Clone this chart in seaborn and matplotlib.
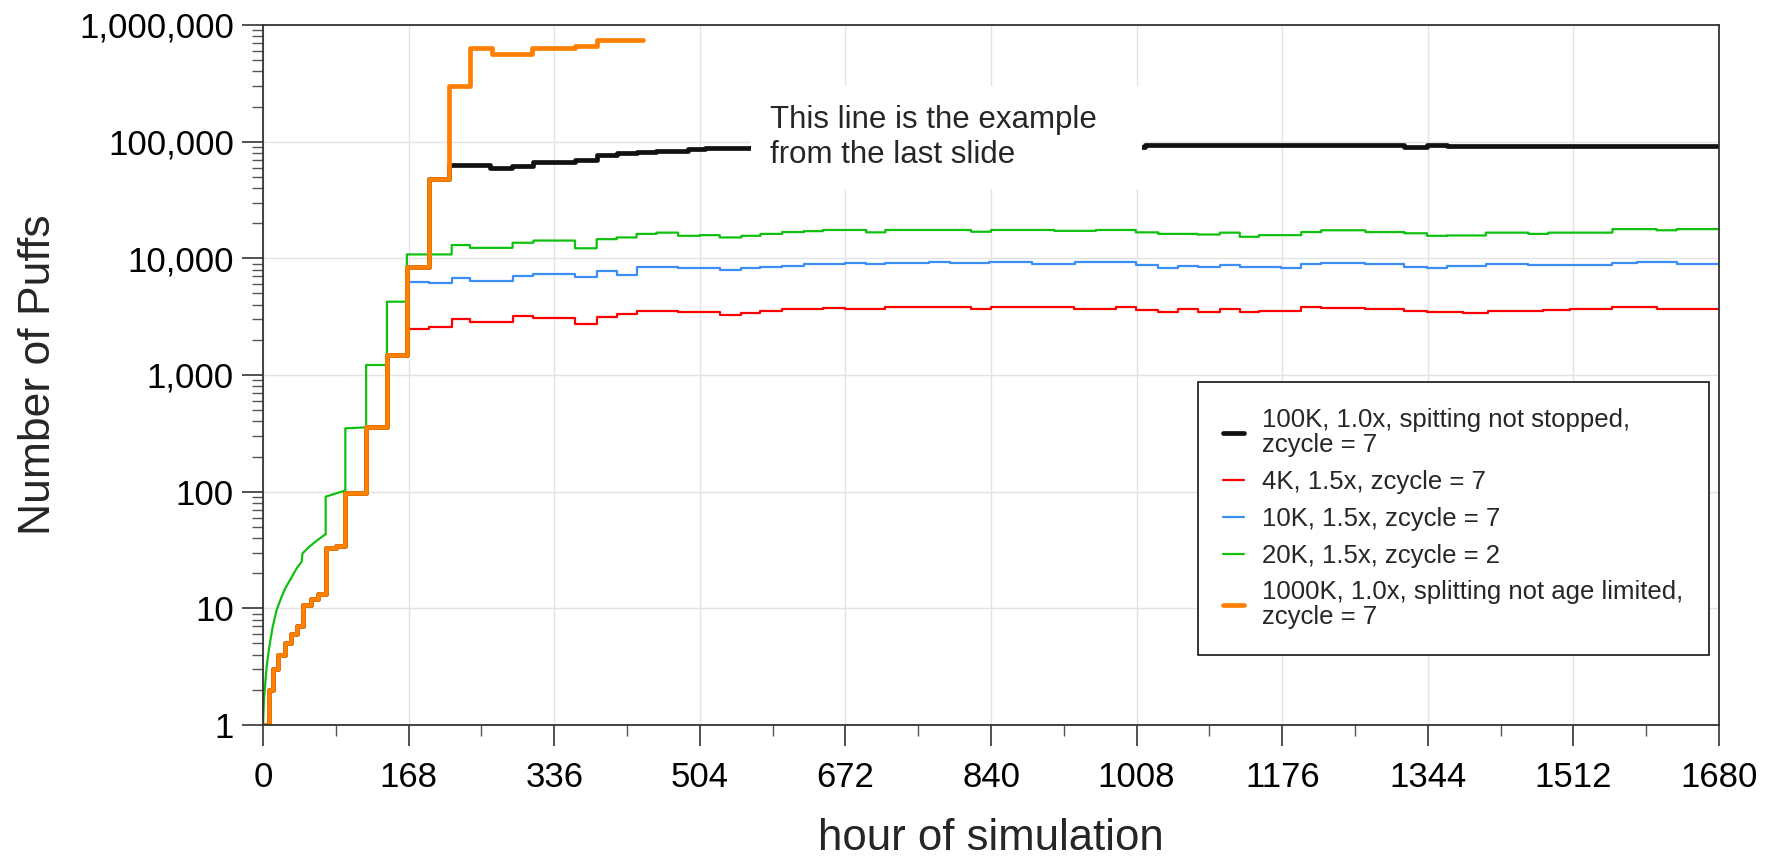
import matplotlib
matplotlib.use("Agg")
import matplotlib.pyplot as plt
from matplotlib import font_manager
import numpy as np
import pandas as pd
import seaborn as sns
from matplotlib.ticker import FixedLocator, FixedFormatter, NullFormatter

# ---------------- data ----------------
early_h = [0, 7.3, 12, 17.7, 25.4, 32.3, 38.8, 46.5, 55, 63, 72.7, 84, 94.6, 118.8, 142.7]
early_v = [1, 2, 3, 4, 5, 6, 7, 10.7, 12, 13.4, 32.7, 34.5, 97, 360, 1483]

black_h = early_h + [166, 191, 215, 262, 287, 312, 360, 385, 408, 431, 454, 490, 510,
                     564, 1018, 1317, 1343, 1366, 1680]
black_v = early_v + [8490, 47800, 63500, 59000, 62200, 66400, 69500, 77000, 80500, 82000,
                     83500, 86000, 87700, 90000, 93600, 90500, 93000, 91800, 91800]

red_h = early_h + [166, 191, 217.7, 238.8, 288, 312, 360, 385, 408, 431, 479, 527, 552, 574,
                   599, 646, 671, 718, 817, 840, 936, 984, 1007, 1033, 1056, 1079, 1104,
                   1127, 1149, 1198, 1221, 1272, 1317, 1343, 1385, 1414, 1477, 1508, 1557,
                   1608, 1680]
red_v = early_v + [2480, 2590, 3020, 2830, 3220, 3060, 2735, 3160, 3335, 3540, 3450, 3290,
                   3420, 3560, 3660, 3740, 3660, 3800, 3690, 3800, 3680, 3800, 3610, 3490,
                   3660, 3490, 3660, 3490, 3560, 3800, 3780, 3660, 3560, 3490, 3380, 3540,
                   3610, 3680, 3800, 3700, 3700]

blue_h = early_h + [166, 191, 217.7, 238.8, 288, 312, 360, 385, 408, 431, 479, 527, 552, 574,
                    599, 624, 671, 696, 718, 768, 793, 838, 887, 937, 1007, 1033, 1056, 1079,
                    1104, 1127, 1175, 1198, 1221, 1250, 1272, 1317, 1343, 1366, 1411, 1460,
                    1557, 1585, 1631, 1680]
blue_v = early_v + [6230, 6110, 6800, 6400, 7100, 7400, 6950, 7800, 7200, 8400, 8250, 7950,
                    8200, 8490, 8650, 8940, 9180, 8880, 9060, 9250, 9060, 9250, 8940, 9360,
                    8770, 8200, 8650, 8500, 8770, 8500, 8200, 8880, 9180, 9060, 8880, 8500,
                    8200, 8600, 8880, 8770, 9180, 9360, 8940, 8940]

# green: smooth start (points joined directly, jumps as repeated hours) ...
green_curve_h = [0, 1.15, 2.3, 4.2, 7.3, 11.2, 15.8, 21.5, 26, 31.2, 38.8, 44.6, 45.5,
                 52, 58, 64, 70.8, 72.3, 72.3, 83, 94.6, 95, 95, 116, 119, 119, 143, 143, 166]
green_curve_v = [1, 1.64, 2.13, 3.16, 4.7, 6.96, 9.7, 12.6, 15, 17.5, 22, 25.1, 29.5,
                 33, 36, 39, 42.5, 43, 90.6, 96, 102, 102, 349, 355, 355, 1218, 1218, 4250, 4250]
# ... then step values
green_h = [166, 217.7, 238.8, 288, 312, 360, 385, 408, 431,
           454, 479, 504, 527, 552, 574, 599, 624, 646, 696, 718, 817, 840, 913, 961, 1007,
           1033, 1078, 1104, 1127, 1149, 1198, 1221, 1272, 1317, 1343, 1366, 1411, 1460,
           1483, 1557, 1608, 1631, 1680]
green_v = [10800, 13000, 12300, 13600, 14200, 12200, 14600, 15100, 16200,
           16600, 15600, 15800, 15100, 15600, 16200, 16800, 17100, 17500,
           16700, 17500, 16900, 17500, 17200, 17500, 16700, 16200, 16000, 16600, 15300,
           15800, 16800, 17400, 16800, 16400, 15600, 15700, 16600, 16200, 16600, 17800,
           17400, 17800, 17800]

orange_h = early_h + [166, 191, 215, 238.8, 263.8, 310, 360, 385, 438.8]
orange_v = early_v + [8490, 47800, 300000, 631000, 564000, 630000, 665000, 740000, 740000]

labels = ["100K, 1.0x, spitting not stopped,\nzcycle = 7",
          "4K, 1.5x, zcycle = 7",
          "10K, 1.5x, zcycle = 7",
          "20K, 1.5x, zcycle = 2",
          "1000K, 1.0x, splitting not age limited,\nzcycle = 7"]
colors = ["#111111", "#ff0000", "#3a8ef6", "#10c010", "#ff8000"]
widths = [3.4, 1.6, 1.6, 1.6, 3.4]

x_ticks = [0, 168, 336, 504, 672, 840, 1008, 1176, 1344, 1512, 1680]
y_ticks = [1, 10, 100, 1000, 10000, 100000, 1000000]
y_tick_labels = ["1", "10", "100", "1,000", "10,000", "100,000", "1,000,000"]

annotation = "This line is the example\u00a0\u00a0\u00a0\nfrom the last slide"


def step_vertices(h, v):
    xs, ys = [], []
    for i in range(len(h)):
        xs.append(h[i]); ys.append(v[i])
        if i + 1 < len(h):
            xs.append(h[i + 1]); ys.append(v[i])
    return xs, ys


# ---------------- plotting ----------------
sns.set_theme(style="white")
plt.rcParams["font.family"] = ["Liberation Sans", "DejaVu Sans"]

names = {f.name for f in font_manager.fontManager.ttflist}
narrow = "Liberation Sans Narrow" in names

fig = plt.figure(figsize=(17.77, 8.61), dpi=100)
ax = fig.add_axes([263 / 1777, 1 - 725 / 861, 1456 / 1777, 700 / 861])

gx, gy = step_vertices(green_h, green_v)
series = [step_vertices(black_h, black_v), step_vertices(red_h, red_v),
          step_vertices(blue_h, blue_v),
          (green_curve_h + gx, green_curve_v + gy),
          step_vertices(orange_h, orange_v)]
for (h, v), lab, c, w in zip(series, labels, colors, widths):
    df = pd.DataFrame({"hour": h, "puffs": v})
    sns.lineplot(data=df, x="hour", y="puffs", ax=ax, color=c, linewidth=w,
                 estimator=None, sort=False, label=lab, zorder=2)

ax.set_yscale("log")
ax.set_xlim(0, 1680)
ax.set_ylim(1, 1000000)

ax.xaxis.set_major_locator(FixedLocator(x_ticks))
ax.xaxis.set_minor_locator(FixedLocator([t + 84 for t in x_ticks[:-1]]))
ax.set_xticklabels([str(t) for t in x_ticks])
ax.yaxis.set_major_locator(FixedLocator(y_ticks))
ax.yaxis.set_major_formatter(FixedFormatter(y_tick_labels))
minor_y = [m * 10 ** k for k in range(6) for m in range(2, 10)]
ax.yaxis.set_minor_locator(FixedLocator(minor_y))
ax.yaxis.set_minor_formatter(NullFormatter())

ax.tick_params(axis="both", which="major", direction="out", length=15, width=1.1,
               color="#222222", labelsize=25, labelcolor="black")
ax.tick_params(axis="both", which="minor", direction="out", length=8, width=1.0,
               color="#555555")
ax.tick_params(axis="x", which="major", pad=11)
ax.tick_params(axis="y", which="major", pad=6)
ax.tick_params(left=True, bottom=True, which="both")

ax.grid(True, which="major", color="#e3e3e3", linewidth=1.0)
ax.set_axisbelow(True)
for s in ax.spines.values():
    s.set_color("#333333")
    s.set_linewidth(1.3)

ax.set_xlabel("hour of simulation", fontsize=31.5)
if narrow:
    ax.set_ylabel("Number of Puffs", fontsize=39,
                  family=["Liberation Sans Narrow", "Liberation Sans"])
else:
    ax.set_ylabel("Number of Puffs", fontsize=32)
ax.xaxis.set_label_coords(0.5, -0.133)
ax.yaxis.set_label_coords(-0.14, 0.5)

ax.text(585, 108600, annotation, fontsize=22.5, ha="left", va="center",
        linespacing=1.2, zorder=5,
        bbox=dict(boxstyle="square,pad=0.6", facecolor="white", edgecolor="none"))

leg = ax.legend(loc="lower right", bbox_to_anchor=(0.993, 0.1), borderaxespad=0,
                fontsize=18.5, frameon=True, fancybox=False, framealpha=1,
                edgecolor="black", handlelength=0.8, handletextpad=0.7,
                borderpad=1.0, labelspacing=0.5)
leg.get_frame().set_linewidth(1.1)
for t in leg.get_texts():
    t.set_linespacing(1.05)

fig.savefig("out.png", dpi=100)
